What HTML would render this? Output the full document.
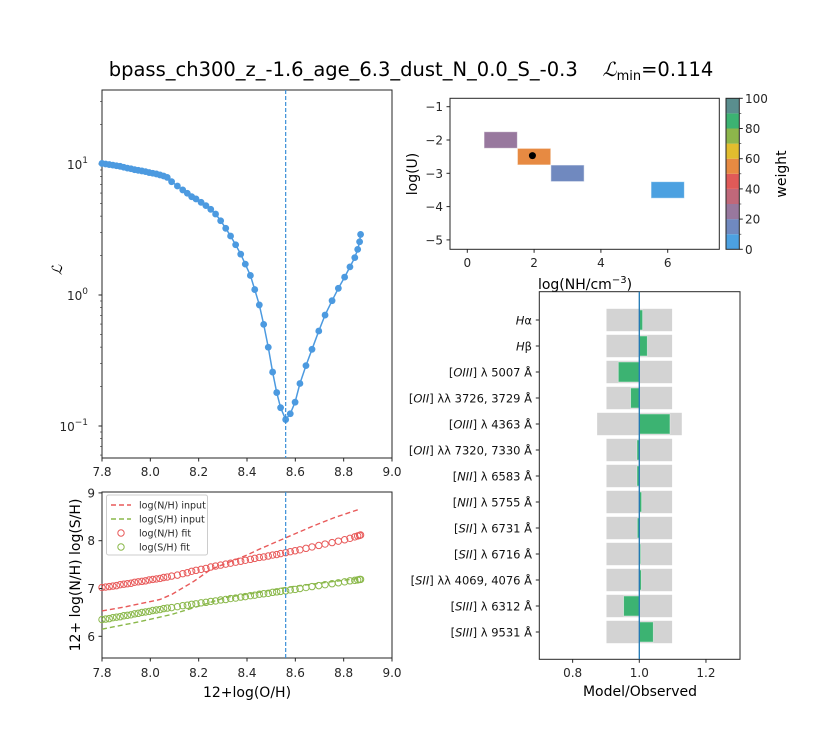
<!DOCTYPE html>
<html><head><meta charset="utf-8"><style>
body{margin:0;background:#fff}
svg{display:block;font-family:"DejaVu Sans","Liberation Sans",sans-serif}
</style></head><body>
<svg id="chart" width="822" height="754" xmlns="http://www.w3.org/2000/svg">
<rect width="822" height="754" fill="#fff"/>
<text x="411" y="76" text-anchor="middle" font-size="19.5" style="white-space:pre">bpass_ch300_z_-1.6_age_6.3_dust_N_0.0_S_-0.3    <tspan font-family="Liberation Serif" font-style="italic">ℒ</tspan><tspan font-size="13" dy="4">min</tspan><tspan dy="-4">=0.114</tspan></text>
<text x="62" y="270" text-anchor="middle" font-size="14" font-family="Liberation Serif" font-style="italic" transform="rotate(-90 62 270)">ℒ</text>
<text x="247" y="697" text-anchor="middle" font-size="14">12+log(O/H)</text>
<text x="80" y="575" text-anchor="middle" font-size="14" transform="rotate(-90 80 575)">12+ log(N/H) log(S/H)</text>
<text x="585" y="289" text-anchor="middle" font-size="14">log(NH/cm<tspan font-size="10" dy="-6">−3</tspan><tspan dy="6">)</tspan></text>
<text x="417" y="174" text-anchor="middle" font-size="14" transform="rotate(-90 417 174)">log(U)</text>
<text x="786" y="174" text-anchor="middle" font-size="14" transform="rotate(-90 786 174)">weight</text>
<text x="640" y="696" text-anchor="middle" font-size="14">Model/Observed</text>
</svg>
<script>
const NS='http://www.w3.org/2000/svg';
const svg=document.getElementById('chart');
function mk(tag,attrs,txt){const e=document.createElementNS(NS,tag);for(const k in attrs)e.setAttribute(k,attrs[k]);if(txt!==undefined)e.textContent=txt;svg.appendChild(e);return e;}

// ---------- data ----------
const ohGrid=[7.80,7.815,7.83,7.845,7.86,7.875,7.89,7.905,7.92,7.935,7.95,7.965,7.98,7.995,8.01,8.025,8.04,8.055,8.07,
8.088,8.112,8.134,8.153,8.171,8.189,8.210,8.230,8.250,8.270,8.291,8.312,8.332,8.353,8.374,8.393,8.414,8.432,8.451,8.469,8.488,8.506,8.523,8.539,8.560,8.579,8.599,8.619,8.644,8.669,8.697,8.723,8.752,8.778,8.804,8.826,8.846,8.858,8.866,8.870];
const likelihood=[10.1,10.0,9.9,9.8,9.7,9.6,9.45,9.3,9.2,9.05,8.95,8.85,8.75,8.6,8.5,8.4,8.25,8.1,7.9,
7.33,6.79,6.34,5.98,5.63,5.41,5.10,4.81,4.51,4.15,3.69,3.23,2.82,2.42,2.05,1.72,1.41,1.10,0.84,0.597,0.399,0.258,0.180,0.138,0.112,0.124,0.152,0.211,0.289,0.385,0.531,0.703,0.905,1.125,1.37,1.64,1.93,2.23,2.55,2.90];
const nhFit=[7.02,7.03,7.04,7.05,7.06,7.08,7.09,7.10,7.11,7.13,7.14,7.15,7.16,7.18,7.19,7.20,7.21,7.23,7.24,
7.26,7.28,7.31,7.33,7.36,7.38,7.40,7.42,7.45,7.47,7.49,7.51,7.53,7.55,7.57,7.59,7.61,7.63,7.65,7.66,7.68,7.70,7.71,7.73,7.75,7.77,7.79,7.81,7.84,7.87,7.90,7.93,7.96,7.99,8.02,8.05,8.08,8.10,8.11,8.12];
const shFit=[6.35,6.36,6.37,6.39,6.40,6.41,6.43,6.44,6.45,6.47,6.48,6.50,6.51,6.52,6.54,6.55,6.56,6.58,6.59,
6.60,6.62,6.64,6.65,6.67,6.68,6.70,6.71,6.73,6.74,6.76,6.77,6.79,6.80,6.82,6.83,6.85,6.86,6.88,6.89,6.90,6.92,6.93,6.94,6.95,6.97,6.98,7.00,7.02,7.04,7.06,7.08,7.10,7.12,7.14,7.16,7.17,7.18,7.19,7.19];
const inputOH=[7.80,7.90,8.04,8.09,8.18,8.25,8.34,8.40,8.45,8.56,8.67,8.76,8.86];
const nhInput=[6.53,6.62,6.77,6.88,7.15,7.40,7.58,7.70,7.82,8.06,8.30,8.48,8.65];
const shInputOH=[7.80,7.95,8.09,8.20,8.31,8.45,8.56,8.70,8.86];
const shInput=[6.15,6.30,6.46,6.63,6.81,6.92,7.02,7.11,7.21];
const bestOH=8.56;
const gridNH=[1,2,3,6];
const gridU=[-2,-2.5,-3,-3.5];
const gridWeight=[25,55,15,5];
const bestNH=1.95, bestU=-2.47;
const cbBounds=[0,10,20,30,40,50,60,70,80,90,100];
const cbColors=['#4ca1e1','#7089bf','#98789e','#c0687a','#e05a58','#e78a42','#e2bd2e','#8db64b','#3cb372','#5a8e8e'];
const lineLabels=['<i>H</i>α','<i>H</i>β','[<i>OIII</i>] λ 5007 Å','[<i>OII</i>] λλ 3726, 3729 Å','[<i>OIII</i>] λ 4363 Å','[<i>OII</i>] λλ 7320, 7330 Å','[<i>NII</i>] λ 6583 Å','[<i>NII</i>] λ 5755 Å','[<i>SII</i>] λ 6731 Å','[<i>SII</i>] λ 6716 Å','[<i>SII</i>] λλ 4069, 4076 Å','[<i>SIII</i>] λ 6312 Å','[<i>SIII</i>] λ 9531 Å'];
const ratioLo=[0.9,0.9,0.9,0.9,0.872,0.9,0.9,0.9,0.9,0.9,0.9,0.9,0.9];
const ratioHi=[1.1,1.1,1.1,1.1,1.129,1.1,1.1,1.1,1.1,1.1,1.1,1.1,1.1];
const ratioModel=[1.010,1.024,0.937,0.974,1.092,0.993,0.993,1.007,0.994,1.004,1.006,0.953,1.042];
const ohTicks=['7.8','8.0','8.2','8.4','8.6','8.8','9.0'];
const abTicks=['6','7','8','9'];
const nhTicks=['0','2','4','6'];
const uTicks=['−1','−2','−3','−4','−5'];
const cbTicks=['0','20','40','60','80','100'];
const ratioTicks=['0.8','1.0','1.2'];

// ---------- scales ----------
const sx1=v=>102+(v-7.8)*241.67;
const sy1=L=>164-(Math.log10(L)-1)*131;
const sy2=v=>540.7-(v-8)*47.8;
const hx=v=>467.3+v*33.4;
const hy=v=>106.7-(v+1)*33.3;
const cby=v=>249.3-v*1.51;
const bx=v=>639.3+(v-1)*333.3;
const rowY=i=>320+i*26;
const TC='#262626';

// ---------- panel 1: likelihood ----------
let e;
e=mk('rect',{x:102,y:90,width:290,height:368,fill:'none',stroke:TC,'stroke-width':1});


ohTicks.forEach(t=>{const x=sx1(+t);
 e=mk('line',{x1:x,x2:x,y1:458,y2:461.5,stroke:TC});
 
 
 e=mk('text',{x:x,y:476,'text-anchor':'middle','font-size':12,fill:TC},t);
 
 });
[1,0,-1].forEach(k=>{const y=sy1(Math.pow(10,k));
 e=mk('line',{x1:98.5,x2:102,y1:y,y2:y,stroke:TC});
 
 
 e=mk('text',{x:88,y:y+5,'text-anchor':'end','font-size':12,fill:TC},'10');
 
 
 const s=document.createElementNS(NS,'tspan');s.setAttribute('font-size','9');s.setAttribute('dy','-6');s.textContent=(k<0?'−':'')+Math.abs(k);e.appendChild(s);});
for(let k=-2;k<=1;k++)for(let m=2;m<=9;m++){const v=m*Math.pow(10,k);const y=sy1(v);if(y<90||y>458)continue;
 e=mk('line',{x1:100,x2:102,y1:y,y2:y,stroke:TC,'stroke-width':0.6});
 
 }
e=mk('polyline',{points:ohGrid.map((v,i)=>sx1(v)+','+sy1(likelihood[i])).join(' '),fill:'none',stroke:'#4c9ae0','stroke-width':1.5});


ohGrid.forEach((v,i)=>{e=mk('circle',{cx:sx1(v),cy:sy1(likelihood[i]),r:3.4,fill:'#4c9ae0'});
 
 });
e=mk('line',{x1:sx1(bestOH),x2:sx1(bestOH),y1:90,y2:458,stroke:'#3a8fd8','stroke-width':1.2,'stroke-dasharray':'4,2'});



// ---------- panel 2: abundances ----------
e=mk('rect',{x:102,y:492,width:290,height:166,fill:'none',stroke:TC,'stroke-width':1});


ohTicks.forEach(t=>{const x=sx1(+t);
 e=mk('line',{x1:x,x2:x,y1:658,y2:661.5,stroke:TC});
 
 
 e=mk('text',{x:x,y:677,'text-anchor':'middle','font-size':12,fill:TC},t);
 
 });
abTicks.forEach(t=>{const y=sy2(+t);
 e=mk('line',{x1:98.5,x2:102,y1:y,y2:y,stroke:TC});
 
 
 e=mk('text',{x:95,y:y+4.5,'text-anchor':'end','font-size':12,fill:TC},t);
 
 });
e=mk('polyline',{points:inputOH.map((v,i)=>sx1(v)+','+sy2(nhInput[i])).join(' '),fill:'none',stroke:'#e85a5a','stroke-width':1.4,'stroke-dasharray':'5,3'});


e=mk('polyline',{points:shInputOH.map((v,i)=>sx1(v)+','+sy2(shInput[i])).join(' '),fill:'none',stroke:'#8ab84a','stroke-width':1.4,'stroke-dasharray':'5,3'});


ohGrid.forEach((v,i)=>{
 e=mk('circle',{cx:sx1(v),cy:sy2(nhFit[i]),r:3.2,fill:'none',stroke:'#e85a5a','stroke-width':1});
 
 
 e=mk('circle',{cx:sx1(v),cy:sy2(shFit[i]),r:3.2,fill:'none',stroke:'#8ab84a','stroke-width':1});
 
 });
e=mk('line',{x1:sx1(bestOH),x2:sx1(bestOH),y1:492,y2:658,stroke:'#3a8fd8','stroke-width':1.2,'stroke-dasharray':'4,2'});


e=mk('rect',{x:106.5,y:495,width:101,height:60,fill:'#fff','fill-opacity':0.8,stroke:'#ccc',rx:2});


const legTxt=['log(N/H) input','log(S/H) input','log(N/H) fit','log(S/H) fit'];
const legCol=['#e85a5a','#8ab84a','#e85a5a','#8ab84a'];
legTxt.forEach((t,i)=>{const y=505+i*14;
 if(i<2){e=mk('line',{x1:111,x2:131,y1:y,y2:y,stroke:legCol[i],'stroke-width':1.4,'stroke-dasharray':'5,3'});}
 else{e=mk('circle',{cx:121,cy:y,r:3.2,fill:'none',stroke:legCol[i]});}
 
 
 e=mk('text',{x:139,y:y+3.5,'font-size':9.5,fill:TC},t);
 
 });

// ---------- panel 3: grid weights ----------
e=mk('rect',{x:450,y:98.3,width:269.3,height:151,fill:'none',stroke:TC,'stroke-width':1});


function wColor(w){for(let i=0;i<cbColors.length;i++){if(w<cbBounds[i+1])return cbColors[i];}return cbColors[cbColors.length-1];}
gridNH.forEach((v,i)=>{
 e=mk('rect',{x:hx(v-0.5),y:hy(gridU[i]+0.25),width:hx(v+0.5)-hx(v-0.5),height:hy(gridU[i]-0.25)-hy(gridU[i]+0.25),fill:wColor(gridWeight[i]),stroke:'#fff','stroke-opacity':0.6,'stroke-width':1});
 
 });
e=mk('circle',{cx:hx(bestNH),cy:hy(bestU),r:3.5,fill:'#000'});


nhTicks.forEach(t=>{const x=hx(+t);
 e=mk('line',{x1:x,x2:x,y1:249.3,y2:252.8,stroke:TC});
 
 
 e=mk('text',{x:x,y:267,'text-anchor':'middle','font-size':12,fill:TC},t);
 
 });
uTicks.forEach((t,i)=>{const y=hy(-1-i);
 e=mk('line',{x1:446.5,x2:450,y1:y,y2:y,stroke:TC});
 
 
 e=mk('text',{x:443,y:y+4.5,'text-anchor':'end','font-size':12,fill:TC},t);
 
 });
cbColors.forEach((c,i)=>{
 e=mk('rect',{x:726,y:cby(cbBounds[i+1]),width:13.3,height:cby(cbBounds[i])-cby(cbBounds[i+1]),fill:c});
 
 });
e=mk('rect',{x:726,y:98.3,width:13.3,height:151,fill:'none',stroke:TC});


cbBounds.forEach(b=>{const y=cby(b);
 e=mk('line',{x1:739.3,x2:(b%20===0?742.8:741.3),y1:y,y2:y,stroke:TC,'stroke-width':(b%20===0?1:0.6)});
 
 });
cbTicks.forEach(t=>{const y=cby(+t);
 e=mk('text',{x:745,y:y+4.5,'font-size':12,fill:TC},t);
 
 });

// ---------- panel 4: model/observed ----------
e=mk('rect',{x:539.3,y:291.7,width:200.7,height:367.6,fill:'none',stroke:TC,'stroke-width':1});


lineLabels.forEach((lab,i)=>{const y=rowY(i);
 e=mk('rect',{x:bx(ratioLo[i]),y:y-11.7,width:bx(ratioHi[i])-bx(ratioLo[i]),height:23.4,fill:'#d3d3d3',stroke:'#fff','stroke-width':1});
 
 
 const a=Math.min(1,ratioModel[i]),b=Math.max(1,ratioModel[i]);
 e=mk('rect',{x:bx(a),y:y-10,width:bx(b)-bx(a),height:20,fill:'#3cb372',stroke:'#fff','stroke-opacity':0.5,'stroke-width':0.8});
 
 
 e=mk('line',{x1:535.8,x2:539.3,y1:y,y2:y,stroke:TC});
 
 
 e=mk('text',{x:532,y:y+4.5,'text-anchor':'end','font-size':11.5,fill:'#111'});
 e.innerHTML=lab.replace(/<i>/g,'<tspan font-style="italic">').replace(/<\/i>/g,'</tspan>');
 
 });
e=mk('line',{x1:bx(1),x2:bx(1),y1:291.7,y2:659.3,stroke:'#1f77b4','stroke-width':1.3});


ratioTicks.forEach(t=>{const x=bx(+t);
 e=mk('line',{x1:x,x2:x,y1:659.3,y2:662.8,stroke:TC});
 
 
 e=mk('text',{x:x,y:677,'text-anchor':'middle','font-size':12,fill:TC},t);
 
 });
</script>
</body></html>
